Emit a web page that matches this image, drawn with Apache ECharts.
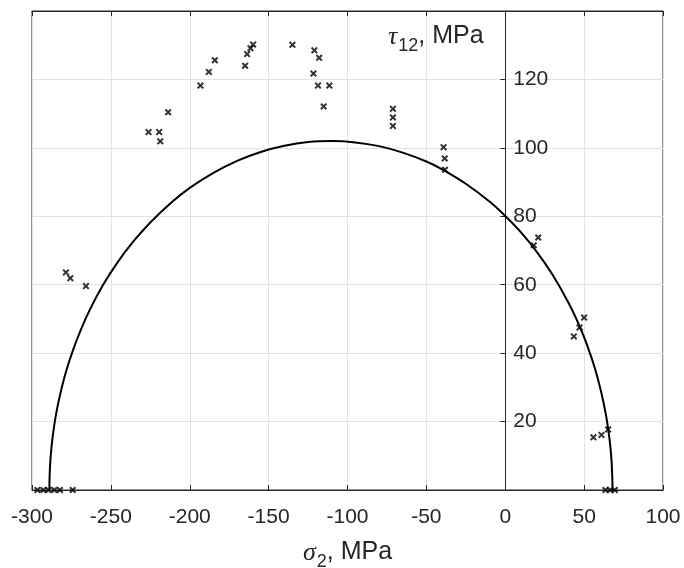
<!DOCTYPE html>
<html>
<head>
<meta charset="utf-8">
<script src="https://cdn.jsdelivr.net/npm/echarts@6/dist/echarts.min.js"></script>
<style>
  html, body { margin: 0; padding: 0; background: #fff; }
  #chart { width: 684px; height: 568px; }
</style>
</head>
<body>
<div id="chart"></div>
<script>
// measured points (sigma_2, tau_12), MPa
const sigmaPts = [-296.6, -292.8, -289.6, -285.9, -282.3, -274.2, 63.5, 66.5, 69.5,
  -278.5, -275.7, -265.8,
  -226.1, -219.4, -218.7, -213.7, -193.2, -187.9, -184.1, -164.9, -163.6, -161.5, -159.8,
  -134.9, -121.0, -118.0, -121.6, -118.7, -111.5, -115.1,
  -71.2, -71.2, -71.2, -39.1, -38.4, -38.2, 18.1, 20.9,
  50.0, 47.1, 43.5, 65.2, 61.0, 55.9];
const tauPts = [0, 0, 0, 0, 0, 0, 0, 0, 0,
  63.6, 61.9, 59.6,
  104.6, 104.6, 101.9, 110.4, 118.2, 122.2, 125.6, 124.0, 127.4, 129.1, 130.2,
  130.1, 128.5, 126.3, 121.7, 118.2, 118.2, 112.1,
  111.4, 108.9, 106.4, 100.2, 96.9, 93.6, 71.5, 73.8,
  50.4, 47.5, 44.9, 17.7, 16.1, 15.4];

// failure envelope
const curveSigma = [-289, -288.9, -288.5, -287.5, -286, -284, -281, -278, -274, -269, -263, -255,
  -246, -236, -225, -212, -200, -185, -170, -155, -140, -125, -110, -95, -80, -65, -50,
  -40, -25, -10, 0, 10, 20, 30, 40, 47, 52, 57, 61, 64, 66, 67, 67.5, 67.9, 68];
const curveTau = [0, 3, 7.6, 13.2, 18.6, 24.0, 30.2, 35.3, 40.9, 46.9, 53.0, 59.9,
  66.4, 72.5, 78.2, 83.9, 88.3, 92.7, 96.2, 98.8, 100.6, 101.7, 102, 101.6, 100.5, 98.6, 96.0,
  93.7, 89.5, 84.3, 80.1, 75.3, 69.6, 62.9, 54.8, 48.0, 42.2, 35.3, 28.3, 21.5, 15.2, 10.8, 7.6, 3, 0];

const xMin = -300, xMax = 100, xStep = 50;
const yMin = 0, yMax = 140, yStep = 20;

const gridLeft = 32, gridRight = 21, chartW = 684;
// y axis sits on sigma_2 = 0: shift it in from the right edge of the box
const plotW = chartW - gridLeft - gridRight;
const yAxisShift = -plotW * (xMax - 0) / (xMax - xMin);

const ink = '#262626';
const gridGray = '#e3e3e3';
const crossPath = 'path://M0,2L2,0L5,3L8,0L10,2L7,5L10,8L8,10L5,7L2,10L0,8L3,5Z';

// italic greek + sans subscript, pushed down by top padding
const labelRich = (fillKey) => ({
  g: { fontFamily: 'Liberation Serif', fontStyle: 'italic', fontSize: 26, [fillKey]: ink, verticalAlign: 'top' },
  s: { fontFamily: 'Liberation Sans', fontSize: 18, [fillKey]: ink, verticalAlign: 'top', padding: [13, 0, 0, 1] },
  n: { fontFamily: 'Liberation Sans', fontSize: 25, [fillKey]: ink, verticalAlign: 'top' }
});

const chart = echarts.init(document.getElementById('chart'));
chart.setOption({
  backgroundColor: '#fff',
  animation: false,
  grid: {
    left: gridLeft, right: gridRight, top: 11, bottom: 78,
    containLabel: false,
    outerBoundsMode: 'none',
    show: true, borderColor: ink, borderWidth: 1, backgroundColor: 'transparent'
  },
  xAxis: [{
    type: 'value', min: xMin, max: xMax, interval: xStep,
    position: 'bottom',
    axisLine: { show: true, onZero: false, lineStyle: { color: ink, width: 1 } },
    axisTick: { show: true, inside: true, length: 5, lineStyle: { color: ink } },
    axisLabel: { color: ink, fontSize: 21, fontFamily: 'Liberation Sans', margin: 17 },
    splitLine: { show: true, lineStyle: { color: gridGray, width: 1 } },
    name: '{g|σ}{s|2}{n|, MPa}',
    nameLocation: 'middle',
    nameGap: 50,
    nameTextStyle: { rich: labelRich('color') }
  }, {
    type: 'value', min: xMin, max: xMax, interval: xStep,
    position: 'top',
    axisLine: { show: true, onZero: false, lineStyle: { color: ink, width: 1 } },
    axisTick: { show: true, inside: true, length: 5, lineStyle: { color: ink } },
    axisLabel: { show: false },
    splitLine: { show: false }
  }],
  yAxis: {
    type: 'value', min: yMin, max: yMax, interval: yStep,
    position: 'right',
    offset: yAxisShift,
    axisLine: { show: true, onZero: false, lineStyle: { color: ink, width: 1 } },
    axisTick: { show: true, inside: true, length: 5, lineStyle: { color: ink } },
    axisLabel: {
      color: ink, fontSize: 21, fontFamily: 'Liberation Sans', margin: 8,
      showMinLabel: false, showMaxLabel: false
    },
    splitLine: { show: true, lineStyle: { color: gridGray, width: 1 } }
  },
  graphic: [{
    type: 'text',
    left: 388, top: 24,
    z: 10,
    style: {
      text: '{g|τ}{s|12}{n|, MPa}',
      rich: labelRich('fill')
    }
  }],
  series: [{
    type: 'line',
    data: curveSigma.map((s, i) => [s, curveTau[i]]),
    showSymbol: false,
    smooth: 0.2,
    lineStyle: { color: '#000', width: 2 },
    z: 3
  }, {
    type: 'scatter',
    data: sigmaPts.map((s, i) => [s, tauPts[i]]),
    symbol: crossPath,
    symbolSize: 7,
    itemStyle: { color: '#000' },
    clip: false,
    z: 4
  }]
});
</script>
</body>
</html>
